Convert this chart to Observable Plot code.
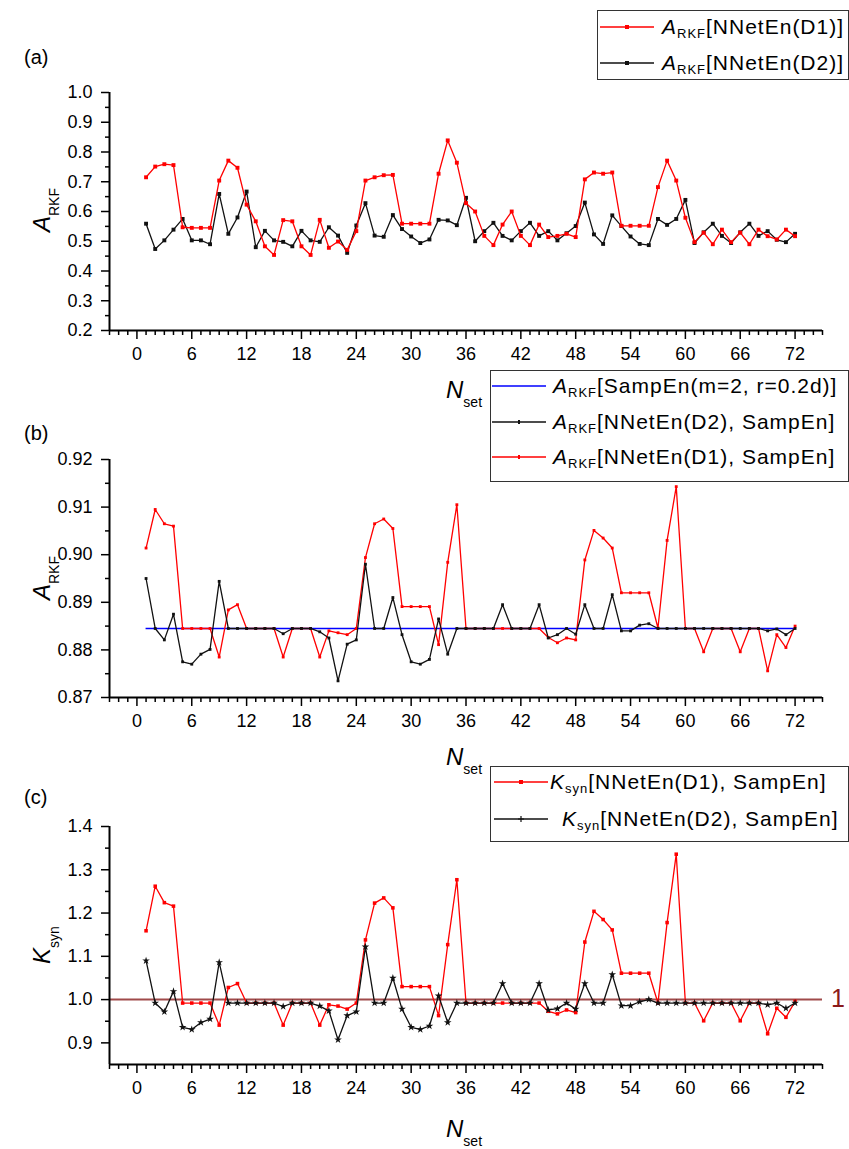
<!DOCTYPE html>
<html>
<head>
<meta charset="utf-8">
<script src="https://cdn.jsdelivr.net/npm/d3@7"></script>
<script src="https://cdn.jsdelivr.net/npm/@observablehq/plot@0.6"></script>
<style>
  body { margin: 0; background: #fff; }
  #root { position: relative; width: 849px; height: 1149px; overflow: hidden; background: #fff;
          font-family: 'Liberation Sans', Arial, sans-serif; color: #000; }
  .fig { position: absolute; left: 0; }
  .abs { position: absolute; white-space: nowrap; }
  .plabel { font-size: 20px; line-height: 20px; }
  .legend { position: absolute; border: 1px solid #333; background: #fff; box-sizing: border-box; }
  .row { position: absolute; left: 0; height: 26px; display: flex; align-items: center; white-space: nowrap; }
  .lt { font-size: 21px; letter-spacing: 1px; line-height: 26px; }
  .lt i { font-style: italic; }
  .lt sub { font-size: 13px; vertical-align: -4px; letter-spacing: 1px; line-height: 0; }
  .ax { font-size: 24px; line-height: 24px; }
  .ax i { font-style: italic; }
  .ax sub { font-size: 14px; vertical-align: -9px; line-height: 0; }
</style>
</head>
<body>
<div id="root"></div>
<script>
// ---------- data ----------
const nset = d3.range(1, 73);
const xMajor = d3.range(0, 73, 6);
const xMinor = d3.range(-3, 76).filter(d => d % 6 !== 0);

// (a) A_RKF[NNetEn(D1)] and A_RKF[NNetEn(D2)]
const aD1 = [0.715,0.751,0.759,0.756,0.547,0.545,0.545,0.545,0.704,0.771,0.747,0.623,0.567,0.483,0.454,0.571,0.567,0.483,0.454,0.572,0.478,0.499,0.471,0.534,0.704,0.715,0.722,0.723,0.559,0.559,0.559,0.559,0.727,0.839,0.764,0.628,0.600,0.518,0.487,0.556,0.600,0.518,0.487,0.556,0.514,0.518,0.525,0.514,0.708,0.731,0.727,0.731,0.552,0.552,0.552,0.552,0.682,0.771,0.704,0.579,0.497,0.529,0.490,0.539,0.497,0.529,0.490,0.539,0.517,0.506,0.539,0.517];
const aD2 = [0.559,0.474,0.503,0.539,0.575,0.503,0.503,0.490,0.659,0.525,0.580,0.667,0.480,0.535,0.503,0.498,0.483,0.535,0.503,0.498,0.547,0.519,0.461,0.553,0.628,0.519,0.515,0.588,0.541,0.516,0.494,0.506,0.572,0.570,0.554,0.646,0.500,0.534,0.562,0.518,0.503,0.534,0.562,0.518,0.534,0.503,0.527,0.551,0.630,0.523,0.491,0.587,0.551,0.516,0.491,0.487,0.575,0.555,0.575,0.639,0.494,0.530,0.559,0.518,0.494,0.530,0.559,0.518,0.534,0.505,0.497,0.525];

// (b) A_RKF[SampEn], A_RKF[NNetEn(D2), SampEn], A_RKF[NNetEn(D1), SampEn]
const sampEnLevel = 0.8845;
const bD2 = [0.8950,0.8845,0.8821,0.8875,0.8775,0.8770,0.8791,0.8801,0.8944,0.8845,0.8845,0.8845,0.8845,0.8845,0.8845,0.8834,0.8845,0.8845,0.8845,0.8838,0.8825,0.8735,0.8812,0.8821,0.8980,0.8845,0.8845,0.8910,0.8832,0.8775,0.8770,0.8780,0.8865,0.8791,0.8845,0.8845,0.8845,0.8845,0.8845,0.8895,0.8845,0.8845,0.8845,0.8895,0.8825,0.8832,0.8845,0.8833,0.8895,0.8845,0.8845,0.8916,0.8840,0.8840,0.8852,0.8855,0.8845,0.8845,0.8845,0.8845,0.8845,0.8845,0.8845,0.8845,0.8845,0.8845,0.8845,0.8845,0.8840,0.8844,0.8832,0.8845];
const bD1 = [0.9014,0.9095,0.9065,0.9060,0.8845,0.8845,0.8845,0.8845,0.8785,0.8884,0.8895,0.8845,0.8845,0.8845,0.8845,0.8785,0.8845,0.8845,0.8845,0.8785,0.8840,0.8836,0.8832,0.8845,0.8994,0.9065,0.9075,0.9055,0.8891,0.8891,0.8891,0.8891,0.8811,0.8984,0.9105,0.8845,0.8845,0.8845,0.8845,0.8845,0.8845,0.8845,0.8845,0.8845,0.8826,0.8815,0.8825,0.8821,0.8989,0.9051,0.9035,0.9014,0.8920,0.8920,0.8920,0.8920,0.8846,0.9030,0.9143,0.8845,0.8845,0.8796,0.8845,0.8845,0.8845,0.8796,0.8845,0.8845,0.8756,0.8832,0.8805,0.8850];

// (c) K_syn[NNetEn(D1), SampEn], K_syn[NNetEn(D2), SampEn]
const kRef = 1;
const cD1 = [1.159,1.262,1.224,1.216,0.992,0.992,0.992,0.992,0.941,1.028,1.037,0.992,0.992,0.992,0.992,0.941,0.992,0.992,0.992,0.941,0.988,0.985,0.978,0.992,1.138,1.223,1.235,1.212,1.030,1.030,1.030,1.030,0.963,1.127,1.277,0.992,0.992,0.992,0.992,0.992,0.992,0.992,0.992,0.992,0.973,0.967,0.976,0.970,1.133,1.204,1.185,1.161,1.061,1.061,1.061,1.061,0.992,1.178,1.336,0.992,0.992,0.951,0.992,0.992,0.992,0.951,0.992,0.992,0.921,0.980,0.959,0.996];
const cD2 = [1.090,0.992,0.972,1.019,0.936,0.931,0.947,0.955,1.086,0.992,0.992,0.992,0.992,0.992,0.992,0.984,0.992,0.992,0.992,0.985,0.974,0.907,0.963,0.972,1.122,0.992,0.992,1.050,0.978,0.936,0.931,0.939,1.009,0.947,0.992,0.992,0.992,0.992,0.992,1.037,0.992,0.992,0.992,1.037,0.976,0.979,0.992,0.978,1.037,0.992,0.992,1.058,0.986,0.986,0.995,1.000,0.992,0.992,0.992,0.992,0.992,0.992,0.992,0.992,0.992,0.992,0.992,0.992,0.988,0.992,0.980,0.992];

// ---------- helpers ----------
const tbl = vals => vals.map((v, i) => ({n: nset[i], v}));
const FONT = "'Liberation Sans', Arial, sans-serif";
const RED = "#ff0000", BLACK = "#111";

function series(vals, color, symbol, r, sw = 1.3) {
  const t = tbl(vals);
  return [
    Plot.line(t, {x: "n", y: "v", stroke: color, strokeWidth: sw}),
    Plot.dot(t, {x: "n", y: "v", symbol, r, fill: color, stroke: "none"})
  ];
}

function panel({top, height, marginTop, marginBottom, yDomain, yMajor, yMinor, yFmt, marks}) {
  const svg = Plot.plot({
    width: 849, height, marginLeft: 109, marginRight: 27, marginTop, marginBottom,
    x: {domain: [-3, 75]},
    y: {domain: yDomain},
    style: {fontFamily: FONT, fontSize: "18px", background: "transparent", overflow: "visible", color: "#000"},
    marks: [
      ...marks,
      Plot.axisX({ticks: xMinor, tickSize: 5, tickFormat: () => "", label: null, strokeWidth: 1.5}),
      Plot.axisX({ticks: xMajor, tickSize: 9, tickPadding: 8, tickFormat: d => String(d), label: null, strokeWidth: 1.5}),
      Plot.axisY({ticks: yMinor, tickSize: 4, tickFormat: () => "", label: null, strokeWidth: 1.5}),
      Plot.axisY({ticks: yMajor, tickSize: 8, tickPadding: 9, tickFormat: yFmt, label: null, strokeWidth: 1.5}),
      Plot.ruleY([yDomain[0]], {stroke: "#000", strokeWidth: 2}),
      Plot.ruleX([-3], {stroke: "#000", strokeWidth: 2})
    ]
  });
  svg.classList.add("fig");
  svg.style.top = top + "px";
  root.appendChild(svg);
}

const root = document.getElementById("root");

// (a)
panel({
  top: 0, height: 370, marginTop: 92, marginBottom: 40,
  yDomain: [0.2, 1.0],
  yMajor: [0.2,0.3,0.4,0.5,0.6,0.7,0.8,0.9,1.0],
  yMinor: [0.25,0.35,0.45,0.55,0.65,0.75,0.85,0.95],
  yFmt: d3.format(".1f"),
  marks: [
    ...series(aD2, BLACK, "square", 2.2),
    ...series(aD1, RED, "square", 2.2)
  ]
});

// (b)
panel({
  top: 370, height: 370, marginTop: 89, marginBottom: 43,
  yDomain: [0.87, 0.92],
  yMajor: [0.87,0.88,0.89,0.90,0.91,0.92],
  yMinor: [0.875,0.885,0.895,0.905,0.915],
  yFmt: d3.format(".2f"),
  marks: [
    Plot.ruleY([sampEnLevel], {x1: 1, x2: 72, stroke: "#0000ff", strokeWidth: 1.4}),
    ...series(bD1, RED, "square", 1.6),
    ...series(bD2, BLACK, "square", 1.6)
  ]
});

// (c)
panel({
  top: 740, height: 409, marginTop: 86, marginBottom: 85,
  yDomain: [0.85, 1.4],
  yMajor: [0.9,1.0,1.1,1.2,1.3,1.4],
  yMinor: [0.95,1.05,1.15,1.25,1.35],
  yFmt: d3.format(".1f"),
  marks: [
    Plot.ruleY([kRef], {stroke: "#a04a4a", strokeWidth: 2}),
    ...series(cD1, RED, "square", 2),
    ...series(cD2, BLACK, "star", 2.4)
  ]
});

// ---------- text & legends ----------
function addHTML(html) { root.insertAdjacentHTML("beforeend", html); }

function sample(color, marker) {
  let m = "";
  if (marker === "square") m = `<rect x="25" y="10" width="4" height="4" fill="${color}"/>`;
  if (marker === "tick") m = `<rect x="26" y="10" width="2" height="4" fill="${color}"/>`;
  if (marker === "plus") m = `<path d="M24,12H30M27,9V15" stroke="${color}" stroke-width="1.2"/>`;
  return `<svg width="56" height="24" style="flex:none"><line x1="0" y1="12" x2="54" y2="12" stroke="${color}" stroke-width="1.3"/>${m}</svg>`;
}

// panel letters
addHTML(`<div class="abs plabel" style="left:24px;top:47px">(a)</div>`);
addHTML(`<div class="abs plabel" style="left:24px;top:423px">(b)</div>`);
addHTML(`<div class="abs plabel" style="left:24px;top:787px">(c)</div>`);

// y-axis titles (rotated)
function yTitle(html, cx, cy) {
  addHTML(`<div class="abs ax" style="left:${cx}px;top:${cy}px;transform:translate(-50%,-50%) rotate(-90deg)">${html}</div>`);
}
yTitle(`<i>A</i><sub>RKF</sub>`, 42, 210);
yTitle(`<i>A</i><sub>RKF</sub>`, 42, 578);
yTitle(`<i>K</i><sub>syn</sub>`, 42, 945);

// x-axis titles
const nTitle = `<i>N</i><sub>set</sub>`;
addHTML(`<div class="abs ax" style="left:446px;top:378px">${nTitle}</div>`);
addHTML(`<div class="abs ax" style="left:446px;top:745px">${nTitle}</div>`);
addHTML(`<div class="abs ax" style="left:446px;top:1117px">${nTitle}</div>`);

// "1" reference label
addHTML(`<div class="abs" style="left:831px;top:985px;font-size:25px;line-height:26px;color:#8b1a1a">1</div>`);

// legend (a)
addHTML(`<div class="legend" style="left:597px;top:10px;width:252px;height:70px">
  <div class="row" style="top:3px;left:2px">${sample(RED, "square")}<span class="lt" style="margin-left:6px"><i>A</i><sub>RKF</sub>[NNetEn(D1)]</span></div>
  <div class="row" style="top:39px;left:2px">${sample(BLACK, "square")}<span class="lt" style="margin-left:6px"><i>A</i><sub>RKF</sub>[NNetEn(D2)]</span></div>
</div>`);

// legend (b)
addHTML(`<div class="legend" style="left:490px;top:370px;width:359px;height:112px">
  <div class="row" style="top:2px;left:1px">${sample("#0000ff", null)}<span class="lt" style="margin-left:5px"><i>A</i><sub>RKF</sub>[SampEn(m=2, r=0.2d)]</span></div>
  <div class="row" style="top:38px;left:1px">${sample(BLACK, "tick")}<span class="lt" style="margin-left:5px"><i>A</i><sub>RKF</sub>[NNetEn(D2), SampEn]</span></div>
  <div class="row" style="top:73px;left:1px">${sample(RED, "tick")}<span class="lt" style="margin-left:5px"><i>A</i><sub>RKF</sub>[NNetEn(D1), SampEn]</span></div>
</div>`);

// legend (c)
addHTML(`<div class="legend" style="left:490px;top:766px;width:359px;height:76px">
  <div class="row" style="top:2px;left:3px">${sample(RED, "square")}<span class="lt" style="margin-left:0px"><i>K</i><sub>syn</sub>[NNetEn(D1), SampEn]</span></div>
  <div class="row" style="top:39px;left:3px">${sample(BLACK, "plus")}<span class="lt" style="margin-left:12px"><i>K</i><sub>syn</sub>[NNetEn(D2), SampEn]</span></div>
</div>`);
</script>
</body>
</html>
